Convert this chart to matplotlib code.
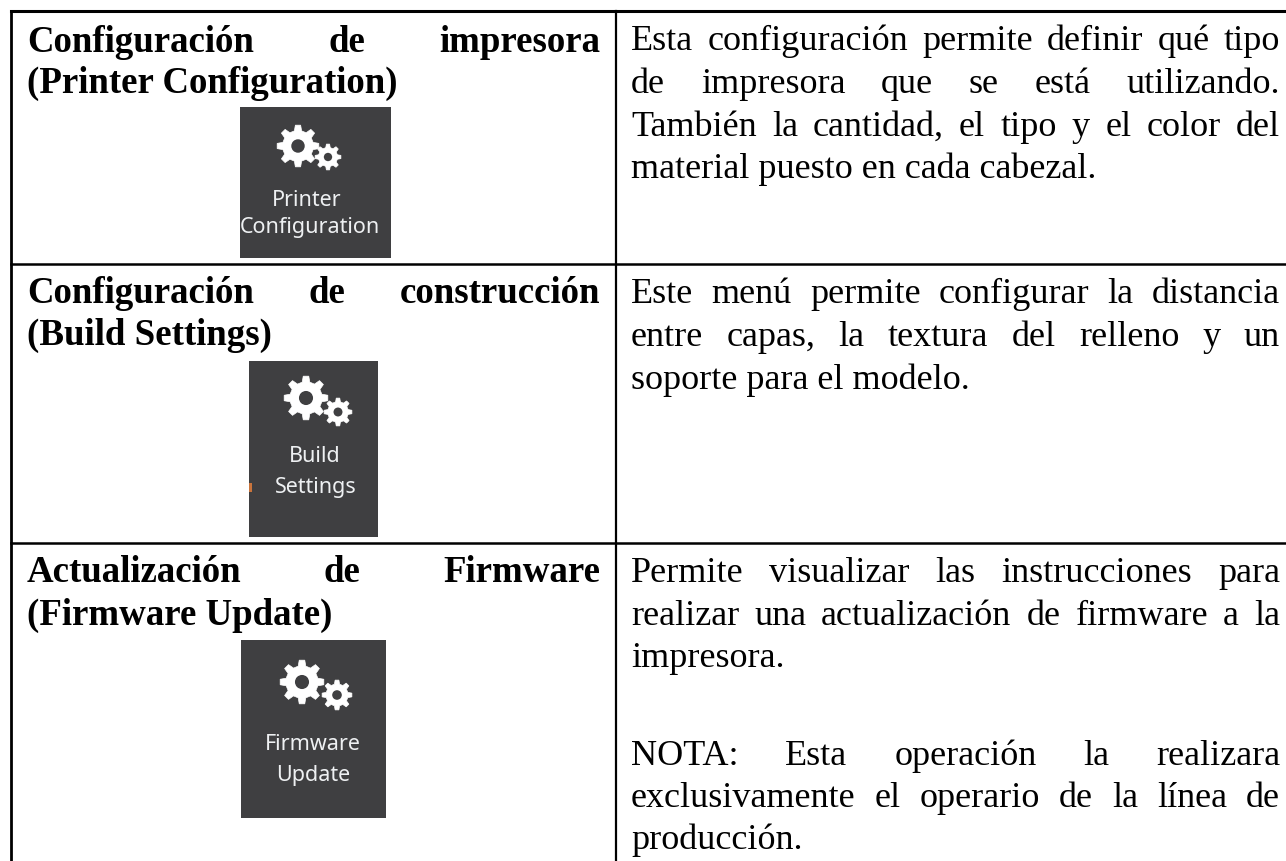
import numpy as np
import matplotlib
matplotlib.use('Agg')
import matplotlib.pyplot as plt
from matplotlib.patches import Rectangle, Polygon, Circle

W, H = 1286, 861
FONT = 'Liberation Serif'
SIZE = 26.0
SIZE_BOLD = 26.6

# (baseline, text, justified)
left_lines = [
    (52, 'Configuración de impresora', True),
    (93, '(Printer Configuration)', False),
    (303, 'Configuración de construcción', True),
    (345, '(Build Settings)', False),
    (582, 'Actualización de Firmware', True),
    (625, '(Firmware Update)', False),
]
right_lines = [
    (50, 'Esta configuración permite definir qué tipo', True),
    (93, 'de impresora que se está utilizando.', True),
    (136, 'También la cantidad, el tipo y el color del', True),
    (178, 'material puesto en cada cabezal.', False),
    (303, 'Este menú permite configurar la distancia', True),
    (346, 'entre capas, la textura del relleno y un', True),
    (389, 'soporte para el modelo.', False),
    (582, 'Permite visualizar las instrucciones para', True),
    (625, 'realizar una actualización de firmware a la', True),
    (667, 'impresora.', False),
    (765, 'NOTA: Esta operación la realizara', True),
    (807, 'exclusivamente el operario de la línea de', True),
    (849, 'producción.', False),
]
icons = [
    dict(box=(240, 107, 391, 258), gears=[(298, 146, 21), (328, 157, 13)],
         labels=[('Printer', 307, 200), ('Configuration', 310, 227)]),
    dict(box=(249, 361, 378, 537), gears=[(306, 398, 22), (338, 412, 14)],
         labels=[('Build', 315, 457), ('Settings', 316, 487)]),
    dict(box=(241, 640, 386, 818), gears=[(302, 682, 22), (337, 695, 15)],
         labels=[('Firmware', 313, 745), ('Update', 313, 775)]),
]

fig = plt.figure(figsize=(W / 100, H / 100), dpi=100)
ax = fig.add_axes([0, 0, 1, 1])
ax.set_xlim(0, W)
ax.set_ylim(H, 0)
ax.axis('off')
rend = fig.canvas.get_renderer()


def word_width(s, size, weight):
    t = ax.text(0, 0, s, family=FONT, size=size, weight=weight)
    w = t.get_window_extent(rend).width
    t.remove()
    return w


def put_line(s, x0, x1, y, size, weight, justify):
    """一行文字，两端对齐时逐词摆放"""
    if not justify:
        ax.text(x0, y, s, family=FONT, size=size, weight=weight, va='baseline', color='black')
        return
    words = s.split()
    widths = [word_width(w, size, weight) for w in words]
    gap = (x1 - x0 - sum(widths)) / (len(words) - 1)
    x = x0
    for w, ww in zip(words, widths):
        ax.text(x, y, w, family=FONT, size=size, weight=weight, va='baseline', color='black')
        x += ww + gap


def gear(cx, cy, r, teeth=8):
    pts = []
    step = 2 * np.pi / teeth
    for i in range(teeth):
        a = i * step
        for da, rr in [(-0.30, 0.74), (-0.16, 1.0), (0.16, 1.0), (0.30, 0.74)]:
            pts.append((cx + rr * r * np.cos(a + da * step), cy + rr * r * np.sin(a + da * step)))
    ax.add_patch(Polygon(pts, closed=True, fc='white', ec='white', lw=0.5, zorder=3))
    ax.add_patch(Circle((cx, cy), r * 0.32, fc='#3f3f41', ec='none', zorder=4))


# table lines
ax.plot([11, W], [11, 11], color='black', lw=2.2)
ax.plot([11, 11], [11, H], color='black', lw=2.0)
ax.plot([616, 616], [11, H], color='black', lw=1.6)
ax.plot([11, W], [263.5, 263.5], color='black', lw=1.8)
ax.plot([11, W], [543, 543], color='black', lw=1.8)

for y, s, just in left_lines:
    put_line(s, 27, 600, y, SIZE_BOLD, 'bold', just)

for y, s, just in right_lines:
    put_line(s, 631, 1280, y, SIZE, 'normal', just)

for ic in icons:
    x0, y0, x1, y1 = ic['box']
    ax.add_patch(Rectangle((x0, y0), x1 - x0, y1 - y0, fc='#3f3f41', ec='none', zorder=2))
    for g in ic['gears']:
        gear(*g)
    for s, x, y in ic['labels']:
        ax.text(x, y, s, family='Noto Sans', size=15.5, color='#eef0f2', ha='center', va='center', zorder=5)

# orange remnant at the edge of the second icon
ax.add_patch(Rectangle((249, 483), 3, 9, fc='#c9743c', ec='none', zorder=3))

fig.savefig('out.png', dpi=100, facecolor='white')
